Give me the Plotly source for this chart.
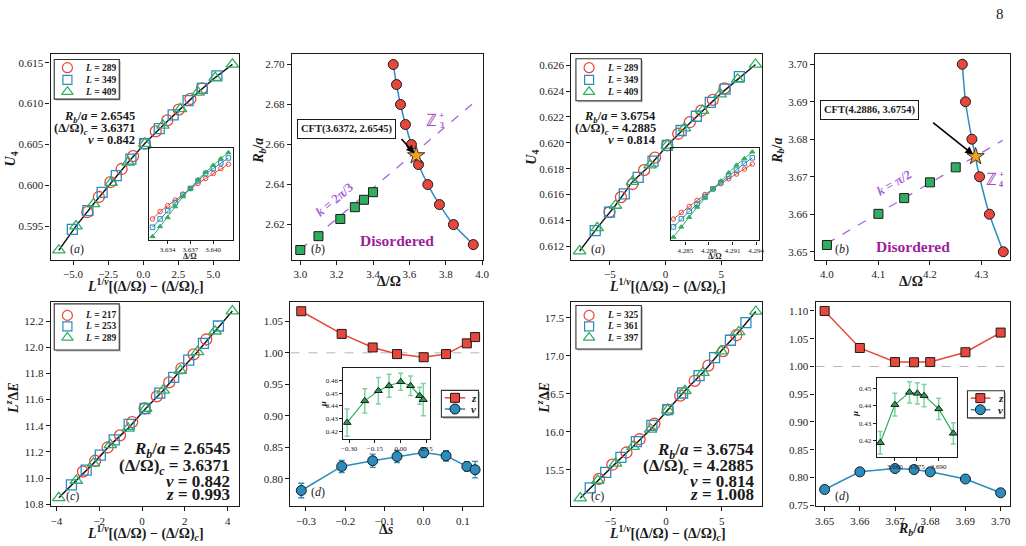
import plotly.graph_objects as go

# ---------------- DATA ----------------
L_a = [289, 349, 409]
L_c_left = [217, 253, 289]
L_c_right = [325, 361, 397]

# (a) left inset: raw U4 vs Delta/Omega
aL_in_x = [3.632, 3.633, 3.634, 3.635, 3.636, 3.637, 3.638, 3.639, 3.640, 3.641, 3.642]
aL_in_u289 = [0.59730, 0.59914, 0.60065, 0.60207, 0.60358, 0.60500, 0.60626, 0.60751, 0.60877, 0.61002, 0.61111]
aL_in_u349 = [0.59521, 0.59730, 0.59939, 0.60140, 0.60333, 0.60500, 0.60693, 0.60877, 0.61002, 0.61144, 0.61270]
aL_in_u409 = [0.59286, 0.59537, 0.59763, 0.60040, 0.60291, 0.60500, 0.60726, 0.60910, 0.61086, 0.61253, 0.61404]
# (a) left collapse
aL_X289 = [-3.99, -3.16, -2.34, -1.54, -0.72, 0.11, 0.89, 1.71, 2.53, 3.36, 4.18]
aL_U289 = [0.5967, 0.59856, 0.60037, 0.60199, 0.60357, 0.6051, 0.6066, 0.60793, 0.60926, 0.61056, 0.61185]
aL_X349 = [-5.05, -3.94, -2.93, -1.92, -0.88, 0.11, 1.14, 2.13, 3.19, 4.20, 5.24]
aL_U349 = [0.5946, 0.5969, 0.59912, 0.60118, 0.6032, 0.6051, 0.60692, 0.60862, 0.61035, 0.61185, 0.61338]
aL_X409 = [-6.01, -4.79, -3.54, -2.29, -1.07, 0.11, 1.40, 2.65, 3.90, 5.12, 6.35]
aL_U409 = [0.59205, 0.5950, 0.59771, 0.60033, 0.6028, 0.6051, 0.60732, 0.60934, 0.61136, 0.61318, 0.6148]

# (a) right inset
aR_in_x = [4.2835, 4.2845, 4.2855, 4.2865, 4.2875, 4.2885, 4.2895, 4.2905, 4.2915, 4.2925, 4.2935]
aR_in_u289 = [0.61524, 0.61624, 0.61714, 0.61805, 0.61895, 0.61980, 0.62060, 0.62135, 0.62205, 0.62280, 0.62356]
aR_in_u349 = [0.61404, 0.61529, 0.61639, 0.61750, 0.61865, 0.61980, 0.62075, 0.62175, 0.62266, 0.62366, 0.62451]
aR_in_u409 = [0.61249, 0.61404, 0.61549, 0.61704, 0.61840, 0.61980, 0.62100, 0.62225, 0.62341, 0.62441, 0.62541]
# (a) right collapse
aR_X289 = [-5.04, -4.01, -2.97, -1.93, -0.95, 0.15, 1.13, 2.17, 3.20, 4.24, 5.28]
aR_U289 = [0.61465, 0.6158, 0.61682, 0.61789, 0.61886, 0.6198, 0.6207, 0.62159, 0.62248, 0.62332, 0.6242]
aR_X349 = [-6.32, -5.04, -3.71, -2.46, -1.13, 0.15, 1.39, 2.76, 4.01, 5.34, 6.62]
aR_U349 = [0.61322, 0.61465, 0.61605, 0.61733, 0.61858, 0.6198, 0.62095, 0.62205, 0.62312, 0.62414, 0.62511]
aR_X409 = [-7.72, -6.14, -4.51, -2.97, -1.39, 0.15, 1.69, 3.32, 4.90, 6.47, 8.07]
aR_U409 = [0.61164, 0.61343, 0.61516, 0.6170, 0.61827, 0.6198, 0.62113, 0.62248, 0.62376, 0.6249, 0.62605]

# (b) left: phase boundary
bL_Rb = [2.70, 2.69, 2.68, 2.67, 2.66, 2.65, 2.64, 2.63, 2.62, 2.61]
bL_dO = [3.511, 3.529, 3.551, 3.578, 3.611, 3.650, 3.701, 3.765, 3.842, 3.951]
bL_sq_dO = [3.00, 3.10, 3.22, 3.30, 3.35, 3.40]
bL_sq_Rb = [2.6073, 2.6142, 2.6228, 2.6287, 2.6324, 2.6362]
bL_k_dO = [3.0, 3.955]
bL_k_Rb = [2.6075, 2.6810]
bL_cft = [3.6372, 2.6545]

# (b) right
bR_Rb = [3.70, 3.69, 3.68, 3.67, 3.66, 3.65]
bR_dO = [4.2628, 4.2690, 4.2814, 4.2962, 4.3154, 4.3423]
bR_sq_dO = [4.00, 4.10, 4.15, 4.20, 4.25]
bR_sq_Rb = [3.6518, 3.6601, 3.6643, 3.6685, 3.6725]
bR_k_dO = [4.0, 4.341]
bR_k_Rb = [3.6522, 3.6797]
bR_cft = [4.2886, 3.6754]

# (c) left collapse of L^z Delta E
cL_X217 = [-2.76, -2.19, -1.61, -1.03, -0.46, 0.12, 0.69, 1.27, 1.84, 2.41, 3.00]
cL_Y217 = [11.050, 11.133, 11.234, 11.327, 11.428, 11.532, 11.625, 11.731, 11.839, 11.945, 12.059]
cL_X253 = [-3.30, -2.61, -1.95, -1.30, -0.60, 0.14, 0.83, 1.48, 2.18, 2.87, 3.57]
cL_Y253 = [10.949, 11.062, 11.176, 11.292, 11.410, 11.532, 11.650, 11.769, 11.902, 12.029, 12.162]
cL_X289 = [-3.89, -3.07, -2.27, -1.48, -0.65, 0.17, 0.99, 1.79, 2.59, 3.41, 4.22]
cL_Y289 = [10.850, 10.982, 11.113, 11.254, 11.380, 11.532, 11.670, 11.822, 11.965, 12.122, 12.276]

# (c) right
cR_X325 = [-6.01, -4.82, -3.55, -2.37, -1.04, 0.15, 1.27, 2.57, 3.79, 5.12, 6.30]
cR_Y325 = [15.378, 15.565, 15.726, 15.900, 16.104, 16.290, 16.474, 16.670, 16.870, 17.061, 17.270]
cR_X361 = [-6.80, -5.41, -4.05, -2.66, -1.27, 0.15, 1.48, 2.96, 4.35, 5.77, 7.16]
cR_Y361 = [15.261, 15.465, 15.661, 15.870, 16.083, 16.290, 16.509, 16.739, 16.974, 17.204, 17.435]
cR_X397 = [-7.69, -6.12, -4.53, -2.96, -1.39, 0.15, 1.69, 3.31, 4.94, 6.51, 8.05]
cR_Y397 = [15.126, 15.357, 15.583, 15.804, 16.030, 16.285, 16.539, 16.778, 17.061, 17.313, 17.583]

# (d) left: exponents vs Delta s
dL_ds = [-0.312, -0.209, -0.130, -0.068, 0.0, 0.057, 0.110, 0.131]
dL_z = [1.066, 1.030, 1.0085, 0.998, 0.993, 0.998, 1.015, 1.025]
dL_z_err = [0.002, 0.002, 0.002, 0.002, 0.002, 0.002, 0.002, 0.002]
dL_nu = [0.7816, 0.8198, 0.8288, 0.8355, 0.8418, 0.8366, 0.8198, 0.8146]
dL_nu_err = [0.0115, 0.0097, 0.0105, 0.0097, 0.0079, 0.0084, 0.0073, 0.0131]
dL_mu = [0.4269, 0.4439, 0.4518, 0.4557, 0.4588, 0.4557, 0.4479, 0.4448]
dL_mu_err = [0.0106, 0.0094, 0.0103, 0.0090, 0.0067, 0.0077, 0.0067, 0.0126]

# (d) right: exponents vs Rb/a
dR_rb = [3.65, 3.66, 3.67, 3.6754, 3.68, 3.69, 3.70]
dR_z = [1.100, 1.0333, 1.0079, 1.0075, 1.0079, 1.0256, 1.061]
dR_z_err = [0.002, 0.002, 0.002, 0.002, 0.002, 0.002, 0.002]
dR_nu = [0.7783, 0.8101, 0.8160, 0.8143, 0.8101, 0.7972, 0.7724]
dR_nu_err = [0.004, 0.004, 0.004, 0.004, 0.004, 0.004, 0.004]
dR_mu = [0.4190, 0.4406, 0.4476, 0.4470, 0.4457, 0.4382, 0.4243]
dR_mu_err = [0.0064, 0.0064, 0.0060, 0.0060, 0.0063, 0.0060, 0.0060]

params_left = ["2.6545", "3.6371", "0.842", "0.993"]
params_right = ["3.6754", "4.2885", "0.814", "1.008"]

# ---------------- STYLE ----------------
W, H = 1026, 546
FONT = "Liberation Serif"
INK = "#1a1a1a"
RED = "#e8473b"
BLUE = "#2b8cbe"
GREEN = "#2fae5f"
DGREEN = "#27a050"
LGREEN = "#7fd3a0"
ORANGE = "#f5a021"
PURPLE_TXT = "#9b1f9b"
PURPLE_LN = "#a866d8"


def px(v):
    return v / W


def py(v):
    return 1 - v / H


fig = go.Figure()
axes = {}


def add_axes(n, xpx, ypx, xr, yr, xtv, ytv, xfmt, yfmt, tfs=11, ticklen=4, showy=True):
    sfx = "" if n == 1 else str(n)
    common = dict(showline=True, mirror=True, linecolor=INK, linewidth=1.3,
                  ticks="outside", ticklen=ticklen, tickwidth=1, tickcolor=INK,
                  showgrid=False, zeroline=False, fixedrange=True,
                  tickfont=dict(family=FONT, size=tfs, color=INK))
    axes["xaxis" + sfx] = dict(domain=[px(xpx[0]), px(xpx[1])], range=xr, tickvals=xtv,
                               tickformat=xfmt, anchor="y" + sfx, **common)
    yax = dict(domain=[py(ypx[1]), py(ypx[0])], range=yr, tickvals=ytv,
               tickformat=yfmt, anchor="x" + sfx, **common)
    if not showy:
        yax["ticks"] = ""
        yax["showticklabels"] = False
    axes["yaxis" + sfx] = yax


TOP = (55, 262)
BOT = (304.3, 511)
add_axes(1, (49, 239), TOP, [-6.6, 6.81], [0.5909, 0.616],
         [-5, -2.5, 0, 2.5, 5], [0.595, 0.600, 0.605, 0.610, 0.615], ".1f", ".3f")
add_axes(2, (292.3, 485), TOP, [2.953, 4.003], [2.6025, 2.705],
         [3.0, 3.2, 3.4, 3.6, 3.8, 4.0], [2.62, 2.64, 2.66, 2.68, 2.70], ".1f", ".2f")
add_axes(3, (574.3, 766.7), TOP, [-8.47, 8.65], [0.61098, 0.62682],
         [-5, 0, 5], [0.612, 0.614, 0.616, 0.618, 0.620, 0.622, 0.624, 0.626], "d", ".3f")
add_axes(4, (820, 1016.7), TOP, [3.9765, 4.3549], [3.6479, 3.7026],
         [4.0, 4.1, 4.2, 4.3], [3.65, 3.66, 3.67, 3.68, 3.69, 3.70], ".1f", ".2f")
add_axes(5, (49.3, 239.3), BOT, [-4.26, 4.54], [10.785, 12.349],
         [-4, -2, 0, 2, 4], [10.8, 11.0, 11.2, 11.4, 11.6, 11.8, 12.0, 12.2], "d", ".1f")
add_axes(6, (291, 485), BOT, [-0.3396, 0.1505], [0.7565, 1.0814],
         [-0.3, -0.2, -0.1, 0.0, 0.1], [0.80, 0.85, 0.90, 0.95, 1.00, 1.05], ".1f", ".2f")
add_axes(7, (574.3, 766.7), BOT, [-8.5, 8.6], [15.017, 17.714],
         [-5, 0, 5], [15.5, 16.0, 16.5, 17.0, 17.5], "d", ".1f")
add_axes(8, (820.7, 1016.7), BOT, [3.6474, 3.7026], [0.748, 1.117],
         [3.65, 3.66, 3.67, 3.68, 3.69, 3.70], [0.75, 0.80, 0.85, 0.90, 0.95, 1.00, 1.05, 1.10], ".2f", ".2f")
# insets
add_axes(9, (148, 233), (149, 242), [3.6315, 3.6426], [0.59203, 0.6153],
         [3.634, 3.637, 3.640], [], ".3f", ".3f", tfs=7, ticklen=3, showy=False)
add_axes(10, (675, 763.3), (149.3, 242.7), [4.2832, 4.2943], [0.61198, 0.62601],
         [4.285, 4.288, 4.291, 4.294], [], ".3f", ".3f", tfs=7, ticklen=3, showy=False)
add_axes(11, (344.5, 431.7), (371.5, 442.8), [-0.3328, 0.1695], [0.4143, 0.4695],
         [-0.30, -0.15, 0.00, 0.15], [0.42, 0.43, 0.44, 0.45, 0.46], ".2f", ".2f", tfs=7, ticklen=3)
add_axes(12, (882.5, 963.3), (381, 461), [3.6476, 3.7024], [0.411, 0.456],
         [3.660, 3.675, 3.690], [0.42, 0.43, 0.44, 0.45], ".3f", ".2f", tfs=7, ticklen=3)
# overlay (pixel frame for legend key glyphs)
axes["xaxis13"] = dict(domain=[0, 1], range=[0, W], visible=False, anchor="y13", fixedrange=True)
axes["yaxis13"] = dict(domain=[0, 1], range=[H, 0], visible=False, anchor="x13", fixedrange=True)


def tr(n, **kw):
    sfx = "" if n == 1 else str(n)
    kw.setdefault("showlegend", False)
    kw.setdefault("hoverinfo", "skip")
    fig.add_trace(go.Scatter(xaxis="x" + sfx, yaxis="y" + sfx, **kw))


OPEN = [("circle-open", RED, 11), ("square-open", BLUE, 10), ("triangle-up-open", GREEN, 11)]


def collapse(n, series, line_x, line_y):
    tr(n, x=line_x, y=line_y, mode="lines", line=dict(color=INK, width=1.5))
    for (xs, ys), (sym, col, sz) in zip(series, OPEN):
        tr(n, x=xs, y=ys, mode="markers",
           marker=dict(symbol=sym, size=sz, color=col, line=dict(width=1.3, color=col)))


collapse(1, [(aL_X289, aL_U289), (aL_X349, aL_U349), (aL_X409, aL_U409)], aL_X409, aL_U409)
collapse(3, [(aR_X289, aR_U289), (aR_X349, aR_U349), (aR_X409, aR_U409)], aR_X409, aR_U409)
collapse(5, [(cL_X217, cL_Y217), (cL_X253, cL_Y253), (cL_X289, cL_Y289)], cL_X289, cL_Y289)
collapse(7, [(cR_X325, cR_Y325), (cR_X361, cR_Y361), (cR_X397, cR_Y397)], cR_X397, cR_Y397)

INSET_STY = [("circle-open", RED), ("square-open", BLUE), ("triangle-up", GREEN)]


def inset_a(n, xs, us):
    for u, (sym, col) in zip(us, INSET_STY):
        tr(n, x=xs, y=u, mode="lines+markers", line=dict(color=col, width=1),
           marker=dict(symbol=sym, size=4.5, color=col, line=dict(width=1, color=col)))


inset_a(9, aL_in_x, [aL_in_u289, aL_in_u349, aL_in_u409])
inset_a(10, aR_in_x, [aR_in_u289, aR_in_u349, aR_in_u409])


def phase(n, rb, do, sqx, sqy, kx, ky, cft):
    tr(n, x=kx, y=ky, mode="lines", line=dict(color=PURPLE_LN, width=1.3, dash="dash"))
    tr(n, x=do, y=rb, mode="lines", line=dict(color=BLUE, width=1.5, shape="spline", smoothing=0.6))
    tr(n, x=do, y=rb, mode="markers", marker=dict(symbol="circle", size=10, color=RED, line=dict(width=1, color=INK)))
    tr(n, x=sqx, y=sqy, mode="markers", marker=dict(symbol="square", size=9, color=GREEN, line=dict(width=1, color=INK)))
    tr(n, x=[cft[0]], y=[cft[1]], mode="markers", marker=dict(symbol="star", size=13, color=ORANGE, line=dict(width=1, color="#333")))


phase(2, bL_Rb, bL_dO, bL_sq_dO, bL_sq_Rb, bL_k_dO, bL_k_Rb, bL_cft)
phase(4, bR_Rb, bR_dO, bR_sq_dO, bR_sq_Rb, bR_k_dO, bR_k_Rb, bR_cft)


def expo(n, xs, z, ze, nu, nue):
    tr(n, x=xs, y=z, mode="lines+markers", line=dict(color=RED, width=1.5),
       error_y=dict(type="data", array=ze, color=RED, thickness=1.3, width=3),
       marker=dict(symbol="square", size=9, color=RED, line=dict(width=1, color=INK)))
    tr(n, x=xs, y=nu, mode="lines+markers", line=dict(color=BLUE, width=1.5),
       error_y=dict(type="data", array=nue, color=BLUE, thickness=1.3, width=3),
       marker=dict(symbol="circle", size=10, color=BLUE, line=dict(width=1, color=INK)))


expo(6, dL_ds, dL_z, dL_z_err, dL_nu, dL_nu_err)
expo(8, dR_rb, dR_z, dR_z_err, dR_nu, dR_nu_err)


def mu_inset(n, xs, mu, err):
    tr(n, x=xs, y=mu, mode="lines+markers", line=dict(color=GREEN, width=1.2),
       error_y=dict(type="data", array=err, color=LGREEN, thickness=1.5, width=2.5),
       marker=dict(symbol="triangle-up", size=7, color=DGREEN, line=dict(width=1, color=INK)))


mu_inset(11, dL_ds, dL_mu, dL_mu_err)
mu_inset(12, dR_rb, dR_mu, dR_mu_err)

# ---------------- legends (drawn as boxes + keys) ----------------
shapes = []
annos = []


def text(x, y, s, size=12, xanchor="center", yanchor="middle", color=INK, angle=0, **kw):
    annos.append(dict(x=px(x), y=py(y), xref="paper", yref="paper", text=s, showarrow=False,
                      xanchor=xanchor, yanchor=yanchor, textangle=angle,
                      font=dict(family=FONT, size=size, color=color), **kw))


def legend_box(x0, y0, x1, y1):
    shapes.append(dict(type="rect", xref="paper", yref="paper", x0=px(x0 + 1.5), x1=px(x1 + 1.5),
                       y0=py(y1 + 1.5), y1=py(y0 + 1.5), line=dict(width=0), fillcolor="#bdbdbd", layer="below"))
    shapes.append(dict(type="rect", xref="paper", yref="paper", x0=px(x0), x1=px(x1),
                       y0=py(y1), y1=py(y0), line=dict(width=1.1, color="#333"), fillcolor="white", layer="below"))


def legend_L(box, gx, tx, rows, Ls):
    legend_box(*box)
    for yy, Lv, (sym, col, sz) in zip(rows, Ls, OPEN):
        tr(13, x=[gx], y=[yy], mode="markers",
           marker=dict(symbol=sym, size=sz - 1, color=col, line=dict(width=1.2, color=col)))
        text(tx, yy, f"<b><i>L</i> = {Lv}</b>", size=9.5, xanchor="left")


legend_L((52.7, 60, 118.3, 100), 66, 81.7, [68.3, 80.7, 92.7], L_a)
legend_L((579, 59.3, 645, 101.7), 592.3, 608.3, [68.3, 80.7, 92.7], L_a)
legend_L((52.7, 306.7, 118.3, 353.3), 66, 81.7, [318.3, 329.3, 340.7], L_c_left)
legend_L((579, 308.3, 645, 352.3), 592.3, 608.3, [318.3, 329.3, 340.7], L_c_right)


def legend_d(box, lx0, lx1, gx, tx, rows):
    legend_box(*box)
    for yy, (sym, col, sz), lab in zip(rows, [("square", RED, 9), ("circle", BLUE, 10)], ["<i>z</i>", "<i>ν</i>"]):
        tr(13, x=[lx0, lx1], y=[yy, yy], mode="lines", line=dict(color=col, width=1.5))
        tr(13, x=[gx], y=[yy], mode="markers",
           error_y=dict(type="data", array=[4], color=col, thickness=1.3, width=2.5),
           marker=dict(symbol=sym, size=sz, color=col, line=dict(width=1, color=INK)))
        text(tx, yy, f"<b>{lab}</b>", size=11, xanchor="left")


legend_d((443.3, 394, 480.7, 421), 446.7, 467.3, 457, 471.5, [401.5, 412.8])
legend_d((974, 394.3, 1011.3, 421.7), 977.3, 997, 987, 1002.5, [401.8, 413.5])

# ---------------- axis titles ----------------
XCOLL = "<b><i>L</i><sup>1/<i>ν</i></sup>[(Δ/Ω) − (Δ/Ω)<sub><i>c</i></sub>]</b>"
text(145, 276.5, XCOLL, size=14, yanchor="top")
text(671.7, 277, XCOLL, size=14, yanchor="top")
text(145, 526, XCOLL, size=14, yanchor="top")
text(671.7, 526, XCOLL, size=14, yanchor="top")
text(390, 284.5, "<b>Δ/Ω</b>", size=14)
text(916.7, 284.5, "<b>Δ/Ω</b>", size=14)
text(388.3, 534.5, "<b>Δ<i>s</i></b>", size=14)
text(916.7, 534.5, "<b><i>R<sub>b</sub></i>/<i>a</i></b>", size=14)
text(10, 160, "<b><i>U</i><sub>4</sub></b>", size=14, angle=-90)
text(535.5, 158.3, "<b><i>U</i><sub>4</sub></b>", size=14, angle=-90)
text(259.5, 152, "<b><i>R<sub>b</sub></i>/<i>a</i></b>", size=14, angle=-90)
text(783, 152, "<b><i>R<sub>b</sub></i>/<i>a</i></b>", size=14, angle=-90)
text(10, 401.7, "<b><i>L<sup>z</sup></i>Δ<i>E</i></b>", size=14, angle=-90)
text(545.5, 401.7, "<b><i>L<sup>z</sup></i>Δ<i>E</i></b>", size=14, angle=-90)
text(190, 258.5, "<b>Δ/Ω</b>", size=8)
text(719.5, 258.5, "<b>Δ/Ω</b>", size=8)
text(323.5, 408.3, "<b><i>μ</i></b>", size=9, angle=-90)
text(861, 417.3, "<b><i>μ</i></b>", size=9, angle=-90)

# ---------------- panel texts ----------------
for (xr_, ys, p) in [(136, [118.3, 130.5, 141.5], params_left), (661.7, [118.3, 130.5, 141.5], params_right)]:
    text(xr_, ys[0], f"<b><i>R<sub>b</sub></i>/<i>a</i> = {p[0]}</b>", size=12.5, xanchor="right")
    text(xr_, ys[1], f"<b>(Δ/Ω)<sub><i>c</i></sub> = {p[1]}</b>", size=12.5, xanchor="right")
    text(xr_, ys[2], f"<b><i>ν</i> = {p[2]}</b>", size=12.5, xanchor="right")
for (xr_, ys, p) in [(232.3, [454.3, 471.7, 486, 499.3], params_left), (761, [454.8, 471.7, 486, 499.3], params_right)]:
    text(xr_, ys[0], f"<b><i>R<sub>b</sub></i>/<i>a</i> = {p[0]}</b>", size=17, xanchor="right")
    text(xr_, ys[1], f"<b>(Δ/Ω)<sub><i>c</i></sub> = {p[1]}</b>", size=17, xanchor="right")
    text(xr_, ys[2], f"<b><i>ν</i> = {p[2]}</b>", size=17, xanchor="right")
    text(xr_, ys[3], f"<b><i>z</i> = {p[3]}</b>", size=17, xanchor="right")

for (x, y, lab) in [(76, 251, "a"), (601, 251, "a"), (318.3, 251.3, "b"), (847.3, 251.7, "b"),
                    (71, 500.7, "c"), (601, 500.7, "c"), (318.3, 496.7, "d"), (847.7, 500.7, "d")]:
    text(x, y, f"(<i>{lab}</i>)", size=12)

# phase diagram decorations
text(398, 242.7, "<b>Disordered</b>", size=15.5, color=PURPLE_TXT)
text(919, 249, "<b>Disordered</b>", size=15.5, color=PURPLE_TXT)
text(433.3, 122, "ℤ", size=17, color="#a44cbf")
text(443.5, 116.5, "<b>+</b>", size=9, color="#a44cbf")
text(443.5, 127, "<b>3</b>", size=8, color="#a44cbf")
text(998.3, 181, "ℤ", size=17, color="#a44cbf")
text(1008, 175.5, "<b>+</b>", size=9, color="#a44cbf")
text(1008, 186, "<b>4</b>", size=8, color="#a44cbf")
text(335, 201, "<b><i>k</i> = 2π/3</b>", size=13, color=PURPLE_LN, angle=-40)
text(900, 184, "<b><i>k</i> = π/2</b>", size=13, color=PURPLE_LN, angle=-30)

# CFT annotations
text(348, 130, f"<b>CFT({bL_cft[0]:.4f}, {bL_cft[1]:.4f})</b>", size=10.5,
     bordercolor=INK, borderwidth=1, borderpad=3, bgcolor="white")
text(875.5, 111, f"<b>CFT({bR_cft[0]:.4f}, {bR_cft[1]:.4f})</b>", size=10.5,
     bordercolor=INK, borderwidth=1, borderpad=3, bgcolor="white")
annos.append(dict(x=bL_cft[0], y=bL_cft[1], xref="x2", yref="y2", text="", showarrow=True,
                  ax=-16, ay=-18, arrowhead=2, arrowsize=1, arrowwidth=1.6, arrowcolor="black", standoff=3))
annos.append(dict(x=bR_cft[0], y=bR_cft[1], xref="x4", yref="y4", text="", showarrow=True,
                  ax=-44, ay=-35, arrowhead=2, arrowsize=1, arrowwidth=1.6, arrowcolor="black", standoff=3))

# page number
text(1007, 14, "8", size=15)

# dashed z = 1 reference lines
for n in (6, 8):
    shapes.append(dict(type="line", xref=f"x{n} domain", yref=f"y{n}", x0=0, x1=1, y0=1.0, y1=1.0,
                       line=dict(color="#b5b5b5", width=1, dash="dash"), layer="below"))

fig.update_layout(width=W, height=H, margin=dict(l=0, r=0, t=0, b=0),
                  paper_bgcolor="white", plot_bgcolor="rgba(0,0,0,0)",
                  showlegend=False, shapes=shapes, annotations=annos,
                  font=dict(family=FONT, color=INK), **axes)
fig.write_html("out.html")
